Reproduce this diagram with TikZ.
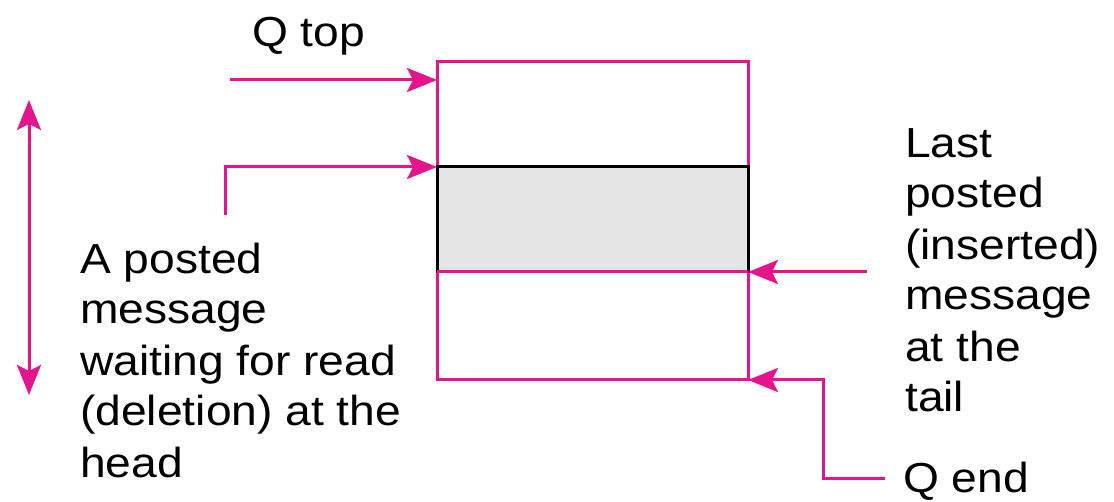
\documentclass[tikz,border=0pt]{standalone}
\usepackage{fontspec}
\setmainfont{Liberation Sans}[FakeStretch=1.1]
\usetikzlibrary{arrows.meta}
\definecolor{qpink}{RGB}{228,20,140}
\tikzset{
	qline/.style={draw=qpink, line width=3pt},
	qtip/.tip={Stealth[length=30pt,width=24pt,inset=6pt]},
	qarrow/.style={qline, -qtip},
	qtext/.style={font=\fontsize{42}{51}\selectfont, align=left, inner sep=0pt, anchor=base west},
}

\begin{document}
\begin{tikzpicture}[x=1pt, y=-1pt]
			%%%%% START %%%%%
			\useasboundingbox (0, 0) rectangle (1114, 502);
			
			% queue box
			\draw[qline] (437, 62) rectangle (748, 380);
			\draw[fill=black!10, draw=black, line width=3pt] (437, 167) rectangle (748, 272);
			\draw[qline] (437, 272) -- (748, 272);
			
			\coordinate (qtopin) at (437, 80);
			\coordinate (headin) at (437, 167);
			\coordinate (tailin) at (748, 272);
			\coordinate (qendin) at (748, 380);
			
			% labels (base = last line)
			\node[qtext] (qtop) at (252, 47) {Q top};
			\node[qtext] (head) at (80, 477) {A posted\\message\\waiting for read\\(deletion) at the\\head};
			\node[qtext] (tail) at (905, 412) {Last\\posted\\(inserted)\\message\\at the\\tail};
			\node[qtext] (qend) at (903, 492) {Q end};
			
			% pointers
			\coordinate (qtopstart) at (230, 80);
			\coordinate (headstart) at (225, 215);
			\coordinate (tailstart) at (867, 272);
			\coordinate (qendstart) at (885, 478);
			\coordinate (qendbend) at (823, 478);
			
			\draw[qarrow] (qtopstart) -- (qtopin);
			\draw[qarrow] (headstart) |- (headin);
			\draw[qarrow] (tailstart) -- (tailin);
			\draw[qarrow] (qendstart) -- (qendbend) |- (qendin);
			
			% span
			\coordinate (spantop) at (29, 100);
			\coordinate (spanbot) at (29, 395);
			\draw[qline, qtip-qtip] (spantop) -- (spanbot);
			%%%%% END %%%%%
\end{tikzpicture}
\end{document}
